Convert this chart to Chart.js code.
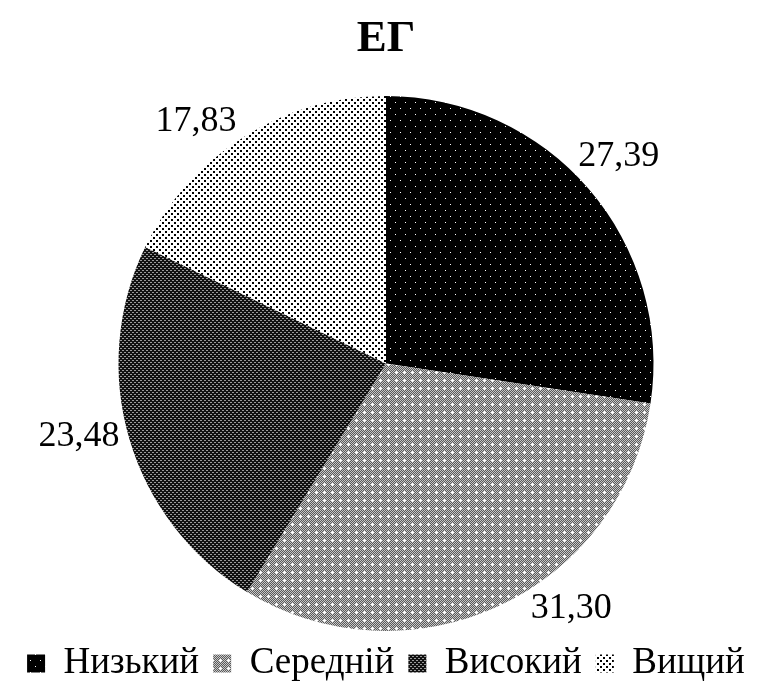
<!DOCTYPE html>
<html>
<head>
<meta charset="utf-8">
<script src="https://cdn.jsdelivr.net/npm/chart.js@4"></script>
<style>
html, body { margin: 0; background: #fff; }
#wrap { width: 764px; height: 686px; }
</style>
</head>
<body>
<div id="wrap"><canvas id="pie-chart"></canvas></div>
<script>
var categories = ["Низький", "Середній", "Високий", "Вищий"];
var values = [27.39, 31.30, 23.48, 17.83];
// nudge (degrees) for the outside value labels, like the original's best-fit placement
var labelShift = [-1, -12, 3, -6];

var canvas = document.getElementById("pie-chart");
var mainCtx = canvas.getContext("2d");

function makePattern(w, h, bg, draw) {
    var c = document.createElement("canvas");
    c.width = w; c.height = h;
    var x = c.getContext("2d");
    x.fillStyle = bg;
    x.fillRect(0, 0, w, h);
    draw(x);
    return mainCtx.createPattern(c, "repeat");
}

// black with small white dots
var patLow = makePattern(10, 12, "#000", function (x) {
    x.fillStyle = "#fff";
    x.fillRect(0, 0, 1, 1);
    x.fillRect(5, 6, 1, 1);
});
// grey checker with white crosses
var patMid = makePattern(8, 8, "#5a5a5a", function (x) {
    x.fillStyle = "#c8c8c8";
    for (var i = 0; i < 8; i++)
        for (var j = 0; j < 8; j++)
            if ((i + j) % 2 == 0) x.fillRect(i, j, 1, 1);
    x.fillStyle = "#fff";
    x.fillRect(3, 4, 3, 1);
    x.fillRect(4, 3, 1, 3);
});
// dark checker
var patHigh = makePattern(4, 4, "#111", function (x) {
    x.fillStyle = "#9a9a9a";
    x.fillRect(0, 0, 2, 1);
    x.fillRect(2, 2, 2, 1);
});
// white with black dots
var patTop = makePattern(6, 6, "#fff", function (x) {
    x.fillStyle = "#000";
    x.fillRect(0, 0, 2, 2);
    x.fillRect(3, 3, 2, 2);
});

var outsideLabels = {
    id: "outsideLabels",
    afterDatasetsDraw: function (chart) {
        var ctx = chart.ctx;
        var meta = chart.getDatasetMeta(0);
        ctx.save();
        ctx.font = '36px "Liberation Serif"';
        ctx.fillStyle = "#000";
        ctx.textAlign = "center";
        ctx.textBaseline = "middle";
        meta.data.forEach(function (arc, i) {
            var txt = values[i].toFixed(2).replace(".", ",");
            var a = (arc.startAngle + arc.endAngle) / 2 + labelShift[i] * Math.PI / 180;
            var w = ctx.measureText(txt).width;
            var d = arc.outerRadius + 6 + Math.abs(Math.cos(a)) * w / 2 + Math.abs(Math.sin(a)) * 12;
            ctx.fillText(txt, arc.x + Math.cos(a) * d, arc.y + Math.sin(a) * d);
        });
        ctx.restore();
    }
};

new Chart(canvas, {
    type: "pie",
    data: {
        labels: categories,
        datasets: [{
            data: values,
            backgroundColor: [patLow, patMid, patHigh, patTop],
            borderWidth: 0
        }]
    },
    plugins: [outsideLabels],
    options: {
        responsive: true,
        maintainAspectRatio: false,
        animation: false,
        layout: { padding: { left: 8, top: 12, bottom: -6 } },
        plugins: {
            title: {
                display: true,
                text: "ЕГ",
                color: "#000",
                font: { family: "Liberation Serif", size: 45, weight: "bold" },
                padding: { top: 0, bottom: 30 }
            },
            legend: {
                position: "bottom",
                labels: {
                    color: "#000",
                    boxWidth: 18,
                    boxHeight: 18,
                    padding: 14,
                    font: { family: "Liberation Serif", size: 37 }
                }
            },
            tooltip: { enabled: false }
        }
    }
});
</script>
</body>
</html>
